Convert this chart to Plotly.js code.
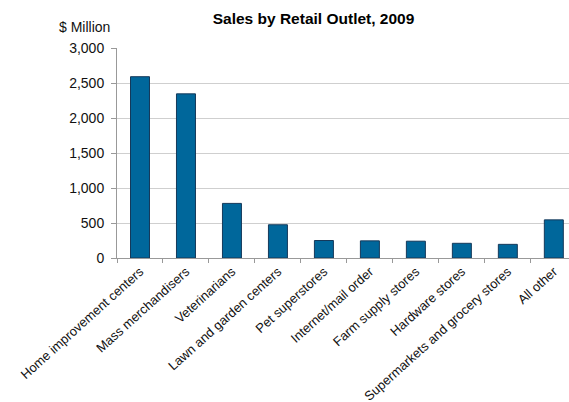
<!DOCTYPE html>
<html>
<head>
<meta charset="utf-8">
<script src="https://cdn.plot.ly/plotly-3.0.1.min.js"></script>
<style>html,body{margin:0;padding:0;background:#fff;}#chart{width:569px;height:402px;}</style>
</head>
<body>
<div id="chart"></div>
<script>
const categories = ["Home improvement centers","Mass merchandisers","Veterinarians","Lawn and garden centers","Pet superstores","Internet/mail order","Farm supply stores","Hardware stores","Supermarkets and grocery stores","All other"];
const sales = [2590, 2345, 780, 475, 250, 245, 240, 210, 195, 545];
const yTicks = [0, 500, 1000, 1500, 2000, 2500, 3000];
const yTickText = ["0","500","1,000","1,500","2,000","2,500","3,000"];

const trace = {
  type: "bar",
  x: categories,
  y: sales,
  marker: {color: "#00679B", line: {color: "#15395A", width: 1}},
  hoverinfo: "x+y"
};

const layout = {
  width: 569, height: 402,
  margin: {l: 117, r: 0, t: 48, b: 144, pad: 0},
  paper_bgcolor: "#fff", plot_bgcolor: "#fff",
  font: {family: "Liberation Sans, Arial, sans-serif", color: "#111", size: 13},
  title: {text: "<b>Sales by Retail Outlet, 2009</b>", font: {size: 15.5, color: "#000"},
          x: 0.551, xref: "container", xanchor: "center", y: 0.955, yref: "container", yanchor: "middle"},
  bargap: 0.587,
  xaxis: {
    type: "category",
    range: [-0.5, 9.33],
    tickangle: -42,
    ticks: "outside", tickson: "boundaries", ticklen: 4, tickcolor: "#999",
    showline: true, linecolor: "#999", linewidth: 1,
    showgrid: false, zeroline: false,
    tickfont: {size: 13, color: "#111"},
    automargin: false
  },
  yaxis: {
    range: [0, 3000],
    tickvals: yTicks, ticktext: yTickText,
    ticks: "outside", ticklen: 5, tickcolor: "#999",
    showline: true, linecolor: "#999", linewidth: 1,
    showgrid: true, gridcolor: "#cfcfcf", gridwidth: 1,
    zeroline: false,
    tickfont: {size: 14, color: "#111"},
    ticklabelstandoff: 4,
    automargin: false
  },
  annotations: [{
    text: "$ Million", xref: "paper", yref: "paper", x: -0.01, y: 1.1,
    xanchor: "right", yanchor: "middle", showarrow: false,
    font: {size: 14, color: "#111"}
  }],
  showlegend: false
};

Plotly.newPlot("chart", [trace], layout, {displayModeBar: false, staticPlot: true});
</script>
</body>
</html>
